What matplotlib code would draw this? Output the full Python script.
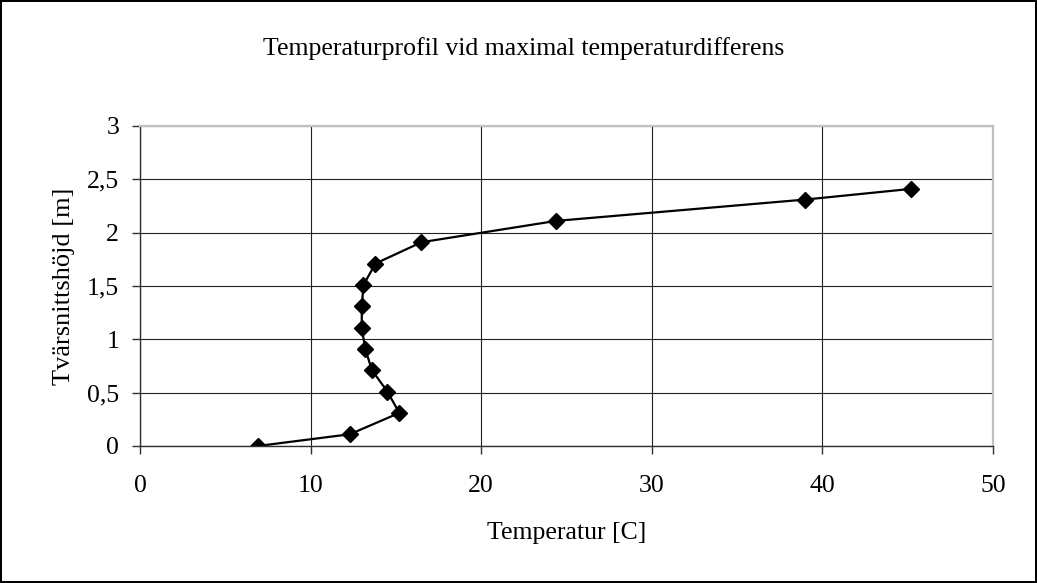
"""Temperature profile at maximum temperature difference."""
import matplotlib
import matplotlib.pyplot as plt
from matplotlib.ticker import FixedLocator, FixedFormatter

matplotlib.use("Agg")

# --- data ---
temperatur = [6.9, 12.3, 15.2, 14.5, 13.6, 13.2, 13.0, 13.0, 13.1, 13.8, 16.5, 24.4, 39.0, 45.2]
hojd = [0.0, 0.11, 0.31, 0.51, 0.71, 0.91, 1.11, 1.31, 1.51, 1.71, 1.91, 2.11, 2.31, 2.41]

x_ticks = [0, 10, 20, 30, 40, 50]
y_ticks = [0, 0.5, 1, 1.5, 2, 2.5, 3]
y_labels = ["0", "0,5", "1", "1,5", "2", "2,5", "3"]

TITLE = "Temperaturprofil vid maximal temperaturdifferens"
XLABEL = "Temperatur [C]"
YLABEL = "Tvärsnittshöjd [m]"
FS = 18.5

plt.rcParams["font.family"] = ["Liberation Serif", "DejaVu Serif"]

fig = plt.figure(figsize=(10.37, 5.83), dpi=100)
fig.patch.set_facecolor("white")
fig.patch.set_edgecolor("black")
fig.patch.set_linewidth(1.5)

ax = fig.add_axes([0.135, 0.235, 0.8226, 0.549])
ax.plot(temperatur, hojd, color="black", linewidth=1.6,
        marker="D", markersize=8.5, markerfacecolor="black", markeredgecolor="black")

ax.set_xlim(0, 50)
ax.set_ylim(0, 3)
ax.xaxis.set_major_locator(FixedLocator(x_ticks))
ax.yaxis.set_major_locator(FixedLocator(y_ticks))
ax.yaxis.set_major_formatter(FixedFormatter(y_labels))

ax.grid(True, color="#202020", linewidth=0.8)
ax.set_axisbelow(True)

for side in ("top", "right"):
    ax.spines[side].set_color("#c0c0c0")
    ax.spines[side].set_linewidth(1.6)
for side in ("left", "bottom"):
    ax.spines[side].set_color("#303030")
    ax.spines[side].set_linewidth(1.0)

ax.tick_params(direction="out", length=6, width=1, color="#303030", labelsize=FS)
ax.tick_params(axis="y", pad=9)
ax.tick_params(axis="x", pad=15)

ax.set_xlabel(XLABEL, fontsize=FS, labelpad=18)
ax.set_ylabel(YLABEL, fontsize=19, labelpad=9)
fig.text(0.505, 0.917, TITLE, ha="center", va="center", fontsize=FS)

fig.savefig("out.png", dpi=100, facecolor="white", edgecolor="black")
